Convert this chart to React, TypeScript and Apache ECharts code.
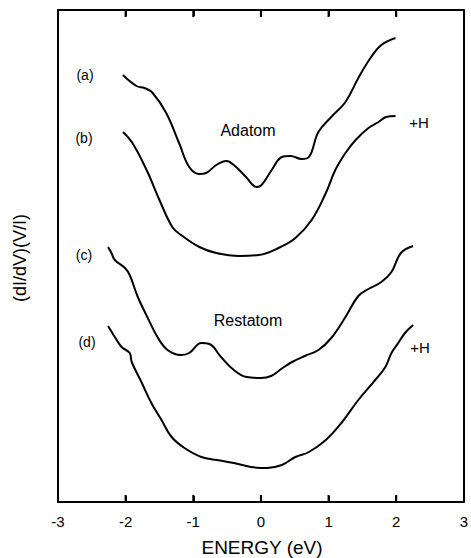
import React, { useEffect, useRef } from "react";
import * as echarts from "echarts";

// Energy (eV) and (dI/dV)/(I/V) in arbitrary offset units
const energyA = [-2.04, -1.84, -1.72, -1.6, -1.4, -1.21, -1.06, -0.91, -0.81, -0.66, -0.51, -0.4, -0.22, -0.06, 0.01, 0.16, 0.31, 0.44, 0.6, 0.71, 0.85, 1.04, 1.25, 1.44, 1.62, 1.78, 1.99];
const curveA = [427, 416, 414, 409, 389, 359, 335, 328, 329, 337, 341, 337, 325, 315, 317, 332, 345, 346, 343, 345, 370, 385, 400, 424, 444, 457, 464];

const energyB = [-2.04, -1.9, -1.69, -1.5, -1.31, -1.18, -0.91, -0.66, -0.32, -0.03, 0.26, 0.51, 0.75, 0.96, 1.1, 1.25, 1.4, 1.59, 1.74, 1.85, 1.99];
const curveB = [370, 359, 332, 302, 275, 267, 255, 249, 246, 247, 254, 264, 282, 309, 332, 349, 362, 374, 380, 385, 386];

const energyC = [-2.26, -2.21, -2.16, -2.01, -1.94, -1.82, -1.68, -1.53, -1.38, -1.18, -1.06, -0.88, -0.76, -0.59, -0.4, -0.21, 0, 0.15, 0.3, 0.46, 0.65, 0.85, 1.04, 1.25, 1.44, 1.59, 1.78, 1.93, 2.07, 2.25];
const curveC = [255, 249, 242, 234, 227, 205, 185, 165, 152, 147, 149, 159, 158, 145, 132, 125, 124, 126, 133, 140, 146, 152, 164, 185, 206, 213, 220, 230, 249, 256];

const energyD = [-2.26, -2.16, -2.06, -1.94, -1.91, -1.76, -1.62, -1.47, -1.32, -1.13, -0.88, -0.65, -0.4, -0.15, 0.09, 0.31, 0.51, 0.71, 0.96, 1.19, 1.44, 1.69, 1.84, 1.93, 2.03, 2.13, 2.25];
const curveD = [176, 165, 155, 149, 140, 119, 99, 82, 65, 54, 45, 42, 39, 35, 34, 37, 45, 50, 62, 79, 102, 122, 135, 149, 159, 169, 177];

const xTicks = [-3, -2, -1, 0, 1, 2, 3];
const Y_MIN = 0;
const Y_MAX = 492;

const FONT = "Liberation Sans, Arial, Helvetica, sans-serif";

function pairs(xs: number[], ys: number[]) {
  return xs.map((x, i) => [x, ys[i]]);
}

export default function App() {
  const ref = useRef<HTMLDivElement>(null);
  useEffect(() => {
    if (!ref.current) return;
    const chart = echarts.init(ref.current, null, { renderer: "svg" });
    const lineSeries = (name: string, xs: number[], ys: number[]) => ({
      name,
      type: "line",
      xAxisIndex: 0,
      yAxisIndex: 0,
      data: pairs(xs, ys),
      smooth: 0.4,
      showSymbol: false,
      symbol: "none",
      lineStyle: { color: "#000", width: 2 },
      itemStyle: { color: "#000" },
    });
    const text = (t: string, x: number, y: number, size = 14) => ({
      type: "text",
      x,
      y,
      style: { text: t, fill: "#000", font: `${size}px ${FONT}`, align: "center", verticalAlign: "middle" },
    });
    const xAxisBase = {
      type: "value",
      min: -3,
      max: 3,
      interval: 1,
      axisLine: { show: true, onZero: false, lineStyle: { color: "#000", width: 2 } },
      axisTick: { show: true, inside: true, length: 6, lineStyle: { color: "#000", width: 2 } },
      splitLine: { show: false },
    };
    const yAxisBase = {
      type: "value",
      min: Y_MIN,
      max: Y_MAX,
      axisLine: { show: true, onZero: false, lineStyle: { color: "#000", width: 2 } },
      axisTick: { show: false },
      axisLabel: { show: false },
      splitLine: { show: false },
    };
    chart.setOption({
      animation: false,
      backgroundColor: "#fff",
      grid: { left: 58, right: 5, top: 10, bottom: 56, show: false },
      xAxis: [
        {
          ...xAxisBase,
          position: "bottom",
          axisLabel: {
            color: "#000",
            fontFamily: FONT,
            fontSize: 15,
            margin: 12,
            showMinLabel: true,
            showMaxLabel: true,
            formatter: (v: number) => (xTicks.includes(v) ? String(v) : ""),
          },
        },
        {
          ...xAxisBase,
          position: "top",
          axisLabel: { show: false },
        },
      ],
      yAxis: [
        { ...yAxisBase, position: "left" },
        { ...yAxisBase, position: "right" },
      ],
      series: [
        lineSeries("(a)", energyA, curveA),
        lineSeries("(b)", energyB, curveB),
        lineSeries("(c)", energyC, curveC),
        lineSeries("(d)", energyD, curveD),
        {
          type: "custom",
          name: "ticks",
          xAxisIndex: 0,
          yAxisIndex: 0,
          silent: true,
          clip: false,
          z: 10,
          data: xTicks.slice(1, -1).map((x) => [x, Y_MIN]),
          encode: { x: 0, y: 1 },
          renderItem: (_params: any, api: any) => {
            const x = api.value(0);
            const b = api.coord([x, Y_MIN]);
            const t = api.coord([x, Y_MAX]);
            return {
              type: "group",
              children: [
                { type: "rect", shape: { x: b[0] - 1, y: b[1] - 7, width: 2, height: 7 }, style: { fill: "#000" } },
                { type: "rect", shape: { x: t[0] - 1, y: t[1], width: 2, height: 7 }, style: { fill: "#000" } },
              ],
            };
          },
        },
      ],
      graphic: [
        text("(a)", 85, 75),
        text("(b)", 84, 138),
        text("(c)", 84, 255),
        text("(d)", 87, 342),
        text("Adatom", 248, 130, 16),
        text("+H", 419, 122, 15),
        text("Restatom", 248, 320, 16),
        text("+H", 420, 347, 15),
        text("ENERGY (eV)", 262, 547, 19),
        {
          type: "text",
          x: 20,
          y: 258,
          rotation: Math.PI / 2,
          style: { text: "(dI/dV)(V/I)", fill: "#000", font: `18px ${FONT}`, align: "center", verticalAlign: "middle" },
        },
      ],
    });
    return () => chart.dispose();
  }, []);
  return <div ref={ref} style={{ width: 471, height: 558, position: "absolute", left: 0, top: 0 }} />;
}
